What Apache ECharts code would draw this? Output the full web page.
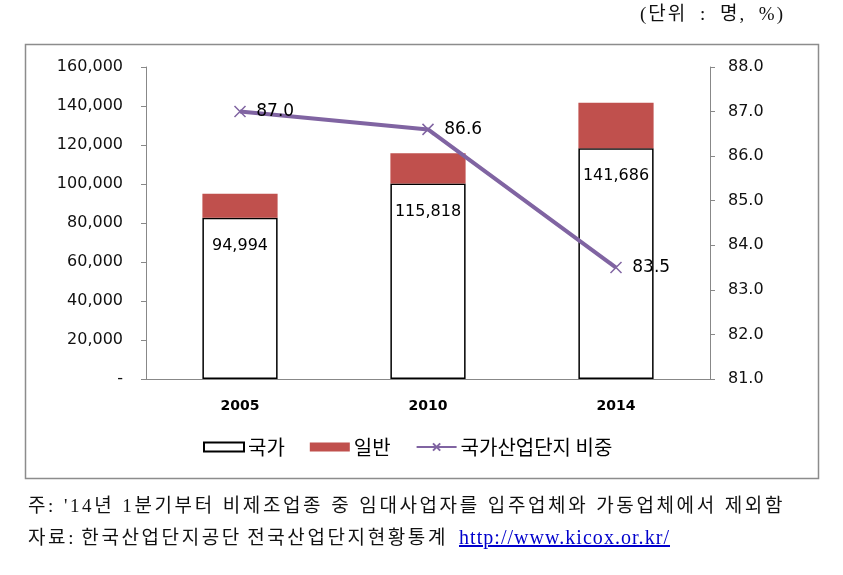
<!DOCTYPE html>
<html><head><meta charset="utf-8">
<script src="https://cdn.jsdelivr.net/npm/echarts@6/dist/echarts.min.js"></script>
<style>
html,body{margin:0;padding:0;background:#fff;}
#c{width:843px;height:575px;position:absolute;left:0;top:0;}
.t{position:absolute;font-family:"Liberation Serif","Noto Sans CJK KR",serif;color:#111;white-space:nowrap;line-height:1;}
a{color:#00c;text-decoration:underline;}
</style></head>
<body>
<div id="c"></div>
<div class="t" id="unit" style="left:640px;top:4px;font-size:19px;letter-spacing:2px;">(단위 : 명, %)</div>
<div class="t" id="n1" style="left:28px;top:496px;font-size:19px;letter-spacing:2.6px;">주: '14년 1분기부터 비제조업종 중 임대사업자를 입주업체와 가동업체에서 제외함</div>
<div class="t" id="n2" style="left:28px;top:528px;font-size:19px;"><span id="n2a" style="letter-spacing:2.6px;">자료: 한국산업단지공단 전국산업단지현황통계</span><span> </span><a id="lnk" style="font-size:20px;">http://www.kicox.or.kr/</a></div>
<script>
const categories = ['2005', '2010', '2014'];
const national = [82645, 100298, 118308];
const general = [12349, 15520, 23378];
const totals = [94994, 115818, 141686];
const share = [87.0, 86.6, 83.5];
const leftTicks = { min: 0, max: 160000, interval: 20000 };
const rightTicks = { min: 81, max: 88, interval: 1 };

// fit the text lines to the widths seen in the reference
function fitWords(el, target) {
  const spaces = (el.textContent.match(/ /g) || []).length;
  const w = el.getBoundingClientRect().width;
  el.style.wordSpacing = ((target - w) / spaces) + 'px';
}
function fitLetters(el, target) {
  const n = el.textContent.length;
  const w = el.getBoundingClientRect().width;
  const cur = parseFloat(getComputedStyle(el).letterSpacing) || 0;
  el.style.letterSpacing = (cur + (target - w) / n) + 'px';
}
fitWords(document.getElementById('n1'), 757);
fitWords(document.getElementById('n2a'), 420);
fitLetters(document.getElementById('lnk'), 211);
fitWords(document.getElementById('unit'), 145);
const lnk = document.getElementById('lnk');
lnk.style.position = 'absolute';
lnk.style.left = (459 - 28) + 'px';
lnk.style.top = '-1px';

const chart = echarts.init(document.getElementById('c'));
const fnt = 'DejaVu Sans';
const kfnt = '"Noto Sans CJK KR"';
const cross = 'path://M0,0L10,10M10,0L0,10';
chart.setOption({
  animation: false,
  graphic: [{
    type: 'rect', shape: { x: 25.5, y: 44.5, width: 793, height: 434 },
    style: { fill: 'none', stroke: '#8c8c8c', lineWidth: 1.5 }, z: -10
  }],
  grid: { left: 146, right: 133, top: 67, bottom: 196 },
  legend: {
    left: 203, top: 437, padding: 0, itemWidth: 40, itemHeight: 9, itemGap: 25,
    textStyle: { fontFamily: kfnt, fontSize: 20, color: '#000', padding: [0, 0, 0, -1] },
    data: [{ name: '국가', icon: 'rect' }, { name: '일반', icon: 'rect' },
      { name: '국가산업단지 비중', textStyle: { letterSpacing: 1 } }]
  },
  xAxis: {
    type: 'category', data: categories,
    axisLine: { lineStyle: { color: '#888', width: 1 } },
    axisTick: { show: false },
    axisLabel: { fontFamily: fnt, fontSize: 14, color: '#000', fontWeight: 'bold', margin: 20 }
  },
  yAxis: [{
    type: 'value', min: leftTicks.min, max: leftTicks.max, interval: leftTicks.interval,
    splitLine: { show: false },
    axisLine: { show: true, lineStyle: { color: '#888' } },
    axisTick: { show: true, length: 5, lineStyle: { color: '#888' } },
    axisLabel: {
      fontFamily: fnt, fontSize: 16, color: '#111', margin: 23,
      formatter: v => v === 0 ? '-' : v.toLocaleString('en-US')
    }
  }, {
    type: 'value', min: rightTicks.min, max: rightTicks.max, interval: rightTicks.interval,
    splitLine: { show: false },
    axisLine: { show: true, lineStyle: { color: '#888' } },
    axisTick: { show: true, length: 5, lineStyle: { color: '#888' } },
    axisLabel: { fontFamily: fnt, fontSize: 16, color: '#111', margin: 18, formatter: v => v.toFixed(1) }
  }],
  series: [{
    name: '국가', type: 'bar', stack: 's', data: national, barWidth: '40%',
    itemStyle: { color: '#fff', borderColor: '#000', borderWidth: 1.5 },
    label: {
      show: true, position: 'insideTop', distance: 20,
      fontFamily: fnt, fontSize: 16, color: '#000',
      formatter: p => totals[p.dataIndex].toLocaleString('en-US')
    }
  }, {
    name: '일반', type: 'bar', stack: 's', data: general, barWidth: '40%',
    itemStyle: { color: '#c0504d' }
  }, {
    name: '국가산업단지 비중', type: 'line', yAxisIndex: 1, data: share,
    symbol: cross, symbolSize: 11,
    lineStyle: { color: '#8064a2', width: 4 },
    itemStyle: { color: '#8064a2', borderColor: '#8064a2', borderWidth: 1.5 },
    label: {
      show: true, position: 'right', distance: 10,
      fontFamily: fnt, fontSize: 17, color: '#000', formatter: p => p.value.toFixed(1)
    }
  }]
});
</script>
</body></html>
